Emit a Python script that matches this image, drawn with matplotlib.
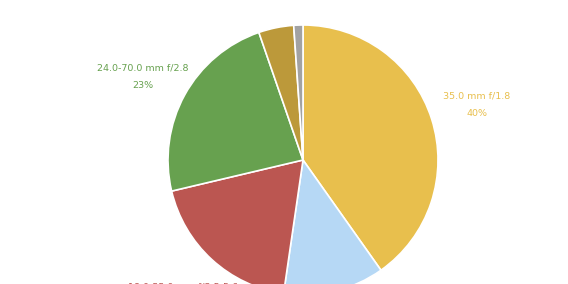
"""lens usage pie chart"""

import matplotlib
matplotlib.use("Agg")
import matplotlib.pyplot as plt

lenses = ['35.0 mm f/1.8', '55.0-200.0 mm f/4.0-5.6', '18.0-55.0 mm f/3.5-5.6',
          '24.0-70.0 mm f/2.8', '50.0 mm f/1.4', '85.0 mm f/1.8']
share = [40.2, 12.1, 19.0, 23.4, 4.2, 1.1]
colors = ['#E8BF4D', '#B6D8F5', '#BB5651', '#67A14F', '#BC993A', '#A2A2A2']

W, H = 568, 284
fig = plt.figure(figsize=(W / 100, H / 100), dpi=100)
ax = fig.add_axes([0, 0, 1, 1])
ax.set_xlim(0, W)
ax.set_ylim(0, H)
ax.set_aspect('equal')
ax.axis('off')

# pie centre / radius in pixel units (y measured from bottom)
cx, cy, r = 303, H - 160, 135
ax.pie(share, colors=colors, startangle=90, counterclock=False,
       center=(cx, cy), radius=r, frame=True,
       wedgeprops=dict(edgecolor='white', linewidth=1.2))
ax.set_xlim(0, W)
ax.set_ylim(0, H)
ax.axis('off')

# labels for the big slices
lab = {0: (477, 96, 114), 3: (143, 68, 86), 2: (183, 287.3, 305)}
for i, (x, y1, y2) in lab.items():
    ax.text(x, H - y1, lenses[i], color=colors[i], fontsize=6.8,
            ha='center', va='center')
    ax.text(x, H - y2, '%d%%' % int(share[i]), color=colors[i], fontsize=6.8,
            ha='center', va='center')

fig.savefig('out.png', dpi=100)
